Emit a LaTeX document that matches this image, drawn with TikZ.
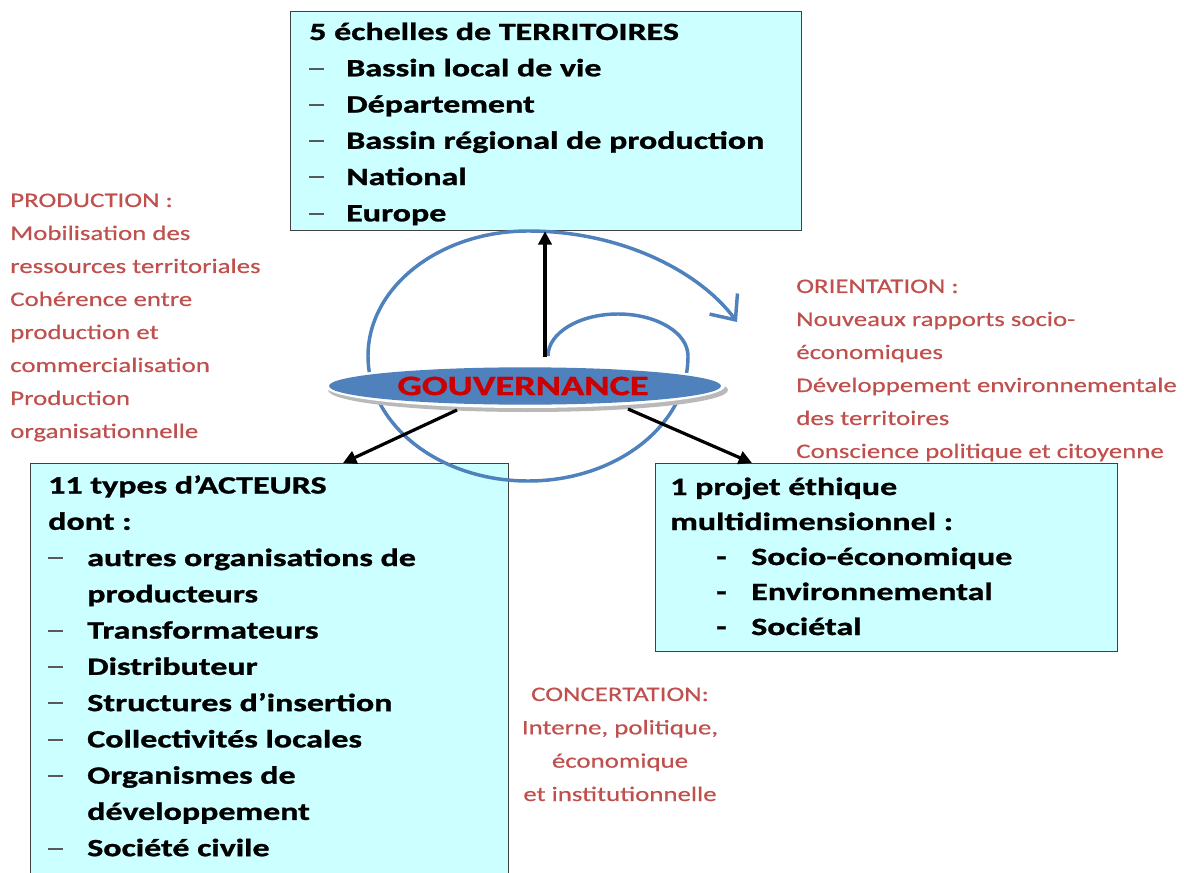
\documentclass[tikz,border=0pt]{standalone}
\usepackage{fontspec}
\setmainfont{Carlito}
\newfontfamily\boxfont[FakeStretch=1.37,BoldFeatures={FakeBold=1.2}]{Carlito}
\newfontfamily\redfont[FakeStretch=1.3,FakeBold=0.4]{Carlito}
\usetikzlibrary{arrows.meta,calc,shapes.geometric}
\definecolor{boxcyan}{RGB}{204,255,255}
\definecolor{accblue}{RGB}{79,129,189}
\definecolor{accred}{RGB}{192,80,77}
\definecolor{govred}{RGB}{204,0,0}
\newcommand{\dashmark}{\leavevmode\textcolor{black!65}{\rule[5pt]{11pt}{1.5pt}}}
\begin{document}
\begin{tikzpicture}[x=0.75pt,y=-0.75pt,
  boxstyle/.style={draw=black!75,line width=1pt,fill=boxcyan,anchor=north west,inner sep=0pt},
  boxtext/.style={anchor=base west,inner sep=0pt,font=\boxfont\bfseries\fontsize{18.6}{27.2}\selectfont},
  redtext/.style={anchor=base west,inner sep=0pt,text=accred,font=\redfont\fontsize{15.5}{24.75}\selectfont},
  arr/.style={line width=2.4pt,-{Triangle[length=10pt,width=10pt]}},
  spiral/.style={accblue,line width=2.6pt}]

\useasboundingbox (0,0) rectangle (1184,873);
\fill[white] (0,0) rectangle (1184,873);

% boxes
\node[boxstyle,minimum width=383.25pt,minimum height=164.25pt] (terr) at (290,11) {};
\node[boxstyle,minimum width=358.5pt,minimum height=320pt] (act) at (30,463) {};
\node[boxstyle,minimum width=346.5pt,minimum height=141pt] (proj) at (655,463) {};

% box texts
\node[boxtext] (terrtxt) at (309,40) {\begin{tabular}[t]{@{}p{27.75pt}@{}l@{}}
\multicolumn{2}{@{}l@{}}{5 échelles de TERRITOIRES}\\
\dashmark & Bassin local de vie\\
\dashmark & Département\\
\dashmark & Bassin régional de production\\
\dashmark & National\\
\dashmark & Europe
\end{tabular}};

\node[boxtext] (acttxt) at (48,493.5) {\begin{tabular}[t]{@{}p{29.25pt}@{}l@{}}
\multicolumn{2}{@{}l@{}}{11 types d’ACTEURS}\\
\multicolumn{2}{@{}l@{}}{dont :}\\
\dashmark & autres organisations de\\
 & producteurs\\
\dashmark & Transformateurs\\
\dashmark & Distributeur\\
\dashmark & Structures d’insertion\\
\dashmark & Collectivités locales\\
\dashmark & Organismes de\\
 & développement\\
\dashmark & Société civile
\end{tabular}};

\node[boxtext,font=\boxfont\bfseries\fontsize{18.6}{26.25}\selectfont] (projtxt) at (670,495) {\begin{tabular}[t]{@{}p{34.5pt}@{}p{26.25pt}@{}l@{}}
\multicolumn{3}{@{}l@{}}{1 projet éthique}\\
\multicolumn{3}{@{}l@{}}{multidimensionnel :}\\
 & - & Socio-économique\\
 & - & Environnemental\\
 & - & Sociétal
\end{tabular}};

% red texts
\node[redtext] (prod) at (10,207) {\begin{tabular}[t]{@{}l@{}}
PRODUCTION :\\
Mobilisation des\\
ressources territoriales\\
Cohérence entre\\
production et\\
commercialisation\\
Production\\
organisationnelle
\end{tabular}};

\node[redtext] (orient) at (796,293) {\begin{tabular}[t]{@{}l@{}}
ORIENTATION :\\
Nouveaux rapports socio-\\
économiques\\
Développement environnementale\\
des territoires\\
Conscience politique et citoyenne
\end{tabular}};

\node[redtext,anchor=base,font=\redfont\fontsize{15.5}{25}\selectfont] (concert) at (620,701) {\begin{tabular}[t]{@{}c@{}}
CONCERTATION:\\
Interne, politique,\\
économique\\
et institutionnelle
\end{tabular}};

% spiral
\draw[spiral,-{Straight Barb[length=15pt,width=26pt,line width=2.6pt]}]
  (548,356) arc[start angle=180,end angle=360,x radius=70,y radius=42]
  arc[start angle=0,end angle=270,x radius=160,y radius=125]
  .. controls (622,231) and (700,272) .. (737,322);

% governance ellipse
\fill[gray!55] (528,390) ellipse [x radius=200, y radius=22];
\fill[white] (525,386) ellipse [x radius=200, y radius=22];
\node[ellipse,fill=accblue,minimum width=294pt,minimum height=28pt,inner sep=0pt] (gov) at (525,386) {};
\node[inner sep=0pt,text=govred,font=\boxfont\bfseries\fontsize{21}{25}\selectfont] (govtxt) at (523,386) {GOUVERNANCE};

% connectors
\coordinate (govtop) at (545,357);
\coordinate (govleft) at (457,410);
\coordinate (govright) at (628,409);
\draw[arr] (govtop) -- (govtop |- terr.south);
\draw[arr] (govleft) -- ($(act.north west)+(313,0)$);
\draw[arr] (govright) -- ($(proj.north west)+(97,0)$);
\end{tikzpicture}
\end{document}
